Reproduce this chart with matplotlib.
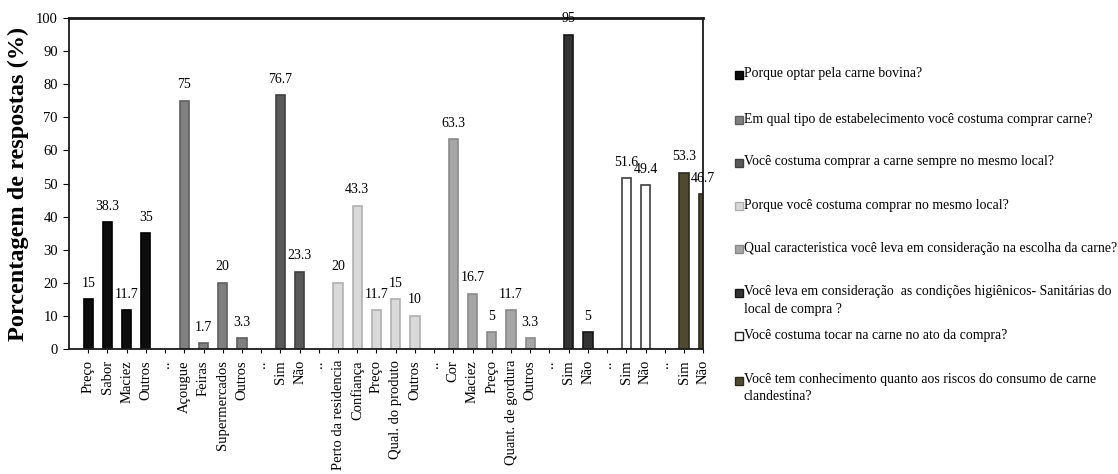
import matplotlib
matplotlib.use("Agg")
import matplotlib.pyplot as plt
from matplotlib.patches import Rectangle

plt.rcParams['font.family'] = ['Liberation Serif', 'DejaVu Serif']

# survey answers, one list per question
q1_labels = ["Preço", "Sabor", "Maciez", "Outros"]
q1_values = [15, 38.3, 11.7, 35]
q2_labels = ["Açougue", "Feiras", "Supermercados", "Outros"]
q2_values = [75, 1.7, 20, 3.3]
q3_labels = ["Sim", "Não"]
q3_values = [76.7, 23.3]
q4_labels = ["Perto da residencia", "Confiança", "Preço", "Qual. do produto", "Outros"]
q4_values = [20, 43.3, 11.7, 15, 10]
q5_labels = ["Cor", "Maciez", "Preço", "Quant. de gordura", "Outros"]
q5_values = [63.3, 16.7, 5, 11.7, 3.3]
q6_labels = ["Sim", "Não"]
q6_values = [95, 5]
q7_labels = ["Sim", "Não"]
q7_values = [51.6, 49.4]
q8_labels = ["Sim", "Não"]
q8_values = [53.3, 46.7]

questions = [
    "Porque optar pela carne bovina?",
    "Em qual tipo de estabelecimento você costuma comprar carne?",
    "Você costuma comprar a carne sempre no mesmo local?",
    "Porque você costuma comprar no mesmo local?",
    "Qual caracteristica você leva em consideração na escolha da carne?",
    "Você leva em consideração  as condições higiênicos- Sanitárias do\nlocal de compra ?",
    "Você costuma tocar na carne no ato da compra?",
    "Você tem conhecimento quanto aos riscos do consumo de carne\nclandestina?",
]

groups = [(q1_labels, q1_values), (q2_labels, q2_values), (q3_labels, q3_values),
          (q4_labels, q4_values), (q5_labels, q5_values), (q6_labels, q6_values),
          (q7_labels, q7_values), (q8_labels, q8_values)]

faces = ["#0d0d0d", "#808080", "#595959", "#d9d9d9", "#a6a6a6", "#333333", "#ffffff", "#4f4833"]
edges = ["#000000", "#5f5f5f", "#404040", "#b0b0b0", "#8a8a8a", "#151515", "#404040", "#2e2a1e"]

fig = plt.figure(figsize=(11.18, 4.74), dpi=100)
ax = fig.add_axes([0.0617, 0.2637, 0.5673, 0.6983])

ticks = []
ticklabels = []
pos = 0
for g, (labs, vals) in enumerate(groups):
    if g > 0:
        ticks.append(pos)
        ticklabels.append("..")
        pos += 1
    xs = list(range(pos, pos + len(vals)))
    ax.bar(xs, vals, width=0.48, color=faces[g], edgecolor=edges[g], linewidth=1.2, zorder=2)
    for x, v in zip(xs, vals):
        ax.annotate(f"{v:g}", (x, v), xytext=(0, 11.5), textcoords="offset points",
                    ha="center", va="center", fontsize=10, annotation_clip=False, zorder=5)
    ticks += xs
    ticklabels += labs
    pos += len(vals)

ax.set_xlim(-1, 32)
ax.set_ylim(0, 100)
ax.set_yticks(range(0, 101, 10))
ax.tick_params(axis="y", labelsize=10.5, length=4, direction="out", pad=4)
ax.set_xticks(ticks)
ax.set_xticklabels(ticklabels, rotation=90, fontsize=10.5)
ax.tick_params(axis="x", length=3, direction="out", pad=5)
ax.set_ylabel("Porcentagem de respostas (%)", fontsize=17.5, fontweight="bold", labelpad=5)
for s in ax.spines.values():
    s.set_color("#1a1a1a")
    s.set_linewidth(1.3)
ax.spines["top"].set_linewidth(2)

# legend on the right, one entry per question
leg_y = [75, 120, 163, 206, 249, 293, 336, 381]
H = 474.0
for g, txt in enumerate(questions):
    yc = 1 - leg_y[g] / H
    fig.add_artist(Rectangle((735 / 1118, yc - 4 / H), 8 / 1118, 8 / H,
                             transform=fig.transFigure, facecolor=faces[g],
                             edgecolor=edges[g] if g != 6 else "#222222", linewidth=1))
    fig.text(744 / 1118, yc + 7.5 / H, txt, ha="left", va="top", fontsize=9.9, linespacing=1.4)

fig.savefig("out.png", dpi=100)
